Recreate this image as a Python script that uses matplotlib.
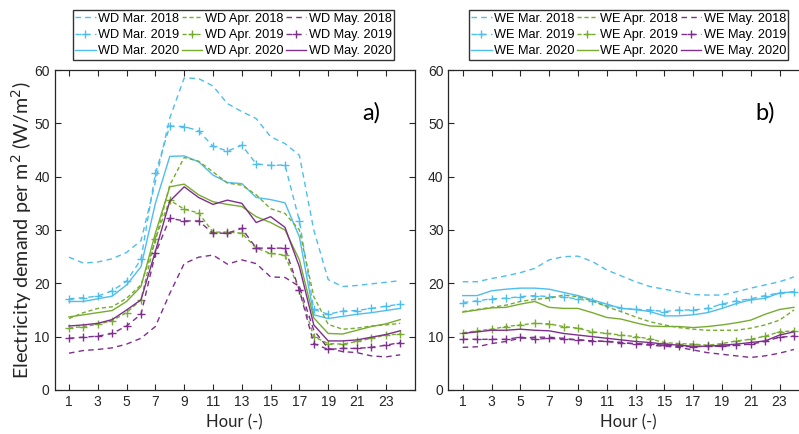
import numpy as np
import matplotlib.pyplot as plt

plt.rcParams['font.family'] = ['Liberation Sans', 'DejaVu Sans']

hours = np.arange(1, 25)

# weekday (WD) profiles, W/m2
wd_mar18 = [24.9, 23.8, 24.0, 24.6, 25.8, 28.0, 39.0, 51.0, 58.5, 58.4, 57.0, 53.7,
            52.2, 50.9, 47.5, 46.2, 44.0, 30.0, 20.7, 19.4, 19.6, 19.9, 20.2, 20.5]
wd_mar19 = [17.1, 17.3, 17.6, 18.6, 20.4, 24.5, 40.6, 49.5, 49.4, 48.6, 45.7, 44.8,
            45.9, 42.4, 42.1, 42.2, 31.7, 15.1, 14.2, 14.8, 14.9, 15.3, 15.7, 16.1]
wd_mar20 = [16.6, 16.6, 17.1, 17.6, 19.7, 23.1, 35.0, 43.8, 43.9, 42.8, 40.3, 38.9,
            38.7, 36.1, 35.7, 35.1, 28.7, 14.1, 13.4, 13.8, 14.2, 14.5, 14.9, 15.3]
wd_apr18 = [13.4, 14.5, 15.3, 15.6, 17.2, 19.7, 28.0, 38.4, 43.6, 42.9, 40.9, 38.8,
            38.4, 36.6, 34.0, 33.1, 30.0, 17.5, 12.3, 11.4, 11.6, 12.0, 12.2, 12.5]
wd_apr19 = [11.6, 11.9, 12.3, 13.0, 14.5, 16.9, 28.4, 35.6, 33.9, 33.2, 29.6, 29.6,
            29.4, 26.6, 25.6, 25.3, 18.7, 10.0, 8.7, 8.6, 9.1, 9.7, 10.3, 10.5]
wd_apr20 = [13.7, 14.1, 14.5, 14.9, 16.6, 19.4, 29.4, 38.1, 38.6, 36.6, 35.3, 34.8,
            34.4, 32.5, 31.4, 30.0, 24.4, 13.5, 10.6, 10.5, 11.2, 11.9, 12.4, 13.2]
wd_may18 = [6.9, 7.4, 7.6, 7.9, 8.6, 9.7, 11.9, 18.1, 23.7, 24.9, 25.3, 23.6,
            24.4, 23.7, 21.2, 21.1, 19.4, 11.2, 7.8, 7.2, 7.0, 6.4, 6.2, 6.6]
wd_may19 = [9.7, 9.9, 10.1, 10.6, 12.0, 14.2, 25.6, 32.2, 31.7, 31.7, 29.4, 29.4,
            30.3, 26.6, 26.6, 26.6, 18.7, 8.7, 7.6, 7.8, 7.8, 8.0, 8.4, 8.9]
wd_may20 = [12.0, 12.2, 12.5, 13.2, 15.0, 16.9, 26.0, 35.4, 38.1, 36.1, 34.8, 35.6,
            35.0, 31.4, 32.5, 30.5, 23.1, 12.2, 9.2, 9.2, 9.4, 9.9, 10.4, 11.1]

# weekend (WE) profiles, W/m2
we_mar18 = [20.3, 20.3, 20.9, 21.4, 22.0, 22.8, 24.4, 25.0, 25.1, 24.1, 22.5, 21.4,
            20.3, 19.4, 18.9, 18.4, 17.9, 17.8, 17.8, 18.4, 19.1, 19.7, 20.3, 21.2]
we_mar19 = [16.4, 16.7, 17.1, 17.2, 17.5, 17.7, 17.5, 17.4, 17.1, 16.6, 15.9, 15.4,
            15.1, 15.0, 14.7, 15.0, 15.0, 15.3, 16.1, 16.7, 17.1, 17.7, 18.2, 18.4]
we_mar20 = [17.7, 17.7, 18.6, 18.9, 19.1, 19.1, 18.9, 18.3, 17.7, 16.9, 16.1, 15.3,
            15.1, 14.7, 13.9, 13.9, 14.1, 14.5, 15.3, 16.2, 16.9, 17.2, 18.2, 18.4]
we_apr18 = [14.7, 15.1, 15.5, 15.9, 16.6, 17.0, 17.2, 17.8, 17.5, 16.7, 15.6, 14.7,
            13.7, 12.8, 12.2, 11.7, 11.4, 11.2, 11.2, 11.2, 11.6, 12.2, 13.1, 15.0]
we_apr19 = [10.7, 11.1, 11.4, 11.9, 12.2, 12.5, 12.4, 11.9, 11.6, 10.9, 10.6, 10.3,
            10.0, 9.6, 8.9, 8.7, 8.6, 8.4, 8.7, 9.2, 9.5, 10.1, 10.9, 11.1]
we_apr20 = [14.6, 15.0, 15.4, 15.5, 16.1, 16.6, 15.5, 15.3, 15.3, 14.5, 13.6, 13.3,
            12.6, 12.0, 11.9, 11.9, 11.7, 11.9, 12.2, 12.6, 13.1, 14.2, 15.1, 15.5]
we_may18 = [8.0, 8.1, 8.7, 9.1, 9.7, 9.9, 9.9, 9.7, 9.4, 9.2, 9.1, 8.9,
            8.6, 8.4, 8.2, 8.0, 7.5, 7.0, 6.7, 6.4, 6.1, 6.4, 6.9, 7.6]
we_may19 = [9.5, 9.5, 9.5, 9.5, 9.9, 9.5, 9.7, 9.5, 9.4, 9.2, 9.1, 8.9,
            8.7, 8.6, 8.4, 8.2, 8.1, 8.2, 8.2, 8.4, 8.6, 9.1, 9.9, 10.1]
we_may20 = [10.6, 10.9, 11.2, 11.2, 11.4, 11.2, 11.1, 10.6, 10.3, 10.0, 9.7, 9.4,
            9.1, 8.9, 8.6, 8.4, 8.2, 8.2, 8.4, 8.6, 8.9, 9.2, 10.3, 10.9]

months = ['Mar.', 'Apr.', 'May.']
years = ['2018', '2019', '2020']
colors = {'Mar.': '#4DBEEE', 'Apr.': '#77AC30', 'May.': '#7E2F8E'}

wd = {('Mar.', '2018'): wd_mar18, ('Mar.', '2019'): wd_mar19, ('Mar.', '2020'): wd_mar20,
      ('Apr.', '2018'): wd_apr18, ('Apr.', '2019'): wd_apr19, ('Apr.', '2020'): wd_apr20,
      ('May.', '2018'): wd_may18, ('May.', '2019'): wd_may19, ('May.', '2020'): wd_may20}
we = {('Mar.', '2018'): we_mar18, ('Mar.', '2019'): we_mar19, ('Mar.', '2020'): we_mar20,
      ('Apr.', '2018'): we_apr18, ('Apr.', '2019'): we_apr19, ('Apr.', '2020'): we_apr20,
      ('May.', '2018'): we_may18, ('May.', '2019'): we_may19, ('May.', '2020'): we_may20}

fig = plt.figure(figsize=(7.99, 4.34), dpi=100)
ax1 = fig.add_axes([0.0683, 0.1014, 0.4506, 0.7373])
ax2 = fig.add_axes([0.5611, 0.1014, 0.4506, 0.7373])

axcol = '#262626'

def draw(ax, data, tag, letter, legx):
    for m in months:
        for y in years:
            vals = data[(m, y)]
            lab = tag + ' ' + m + ' ' + y
            dsh = (4, 3) if m != 'Apr.' else (3, 2)
            if y == '2018':
                ax.plot(hours, vals, '--', color=colors[m], lw=1.0, label=lab, dashes=dsh)
            elif y == '2019':
                ax.plot(hours, vals, '--', color=colors[m], lw=1.0, marker='+',
                        ms=6, mew=1.0, label=lab, dashes=dsh)
            else:
                ax.plot(hours, vals, '-', color=colors[m], lw=1.0, label=lab)
    ax.set_xlim(0, 25)
    ax.set_ylim(0, 60)
    ax.set_xticks(np.arange(1, 24, 2))
    ax.set_yticks(np.arange(0, 61, 10))
    ax.tick_params(direction='in', top=True, right=True, length=4, width=0.8,
                   colors=axcol, labelsize=10, labelcolor='#262626')
    for s in ax.spines.values():
        s.set_color(axcol)
        s.set_linewidth(0.9)
    ax.set_xlabel('Hour (-)', family='Lato', fontsize=12, color='#262626', labelpad=4)
    ax.text(22.0, 52, letter, family='Lato', fontsize=17, ha='center', va='center')
    fig.legend(*ax.get_legend_handles_labels(), ncol=3, loc='upper center',
               bbox_to_anchor=(legx, 0.977), fancybox=False, edgecolor='#333333',
               framealpha=1, fontsize=9.2, handlelength=1.6, handletextpad=0.2,
               columnspacing=0.2, labelspacing=0.35, borderpad=0.2,
               borderaxespad=0)

draw(ax1, wd, 'WD', 'a)', 0.2923)
draw(ax2, we, 'WE', 'b)', 0.7866)
ax1.set_ylabel('Electricity demand per m$^2$ (W/m$^2$)', family='Lato',
               fontsize=14.2, color='#262626', labelpad=0)

fig.savefig('out.png', dpi=100)
